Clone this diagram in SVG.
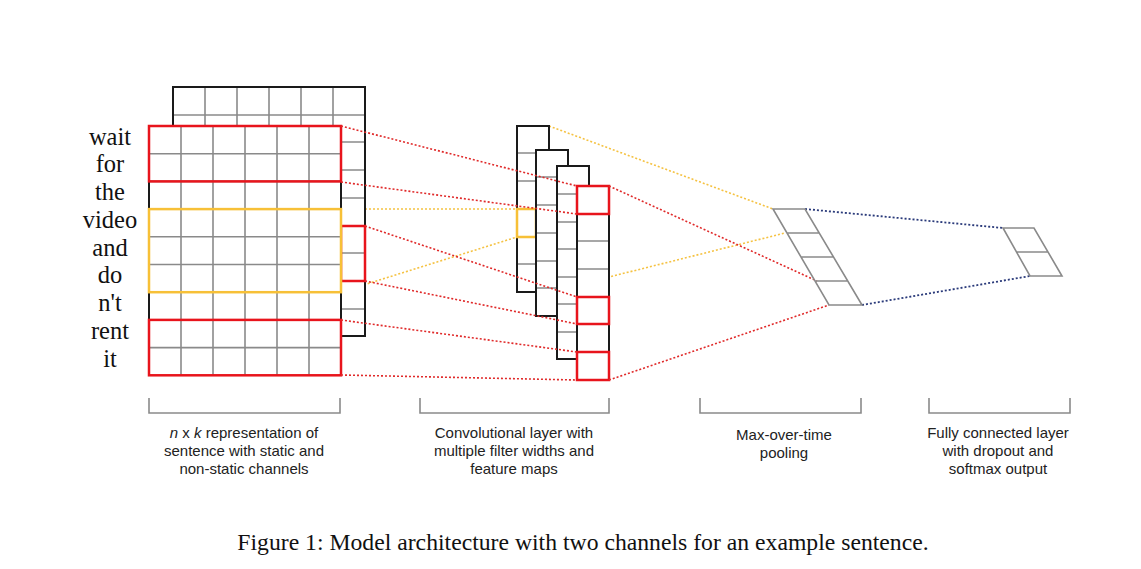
<svg xmlns="http://www.w3.org/2000/svg" width="1141" height="569" viewBox="0 0 1141 569">
<style>
.g{stroke:#8a8a8a;stroke-width:1.6;fill:none}
.k{stroke:#1a1a1a;stroke-width:2;fill:none}
.f{fill:#fff}
.r{stroke:#e8141c;stroke-width:2.5;fill:none}
.y{stroke:#f7c037;stroke-width:2.5;fill:none}
.dr{stroke:#e02a2a;stroke-width:1.6;stroke-dasharray:2 2;fill:none}
.dy{stroke:#f5c242;stroke-width:1.6;stroke-dasharray:2 2;fill:none}
.db{stroke:#2a3a7a;stroke-width:1.8;stroke-dasharray:2 2;fill:none}
.w{font-family:"Liberation Serif",serif;font-size:24.5px;fill:#111;text-anchor:middle}
.l{font-family:"Liberation Sans",sans-serif;font-size:15px;fill:#222;text-anchor:middle}
</style>
<rect width="1141" height="569" fill="#fff"/>
<g id="connectors-back">
<path class="dy" d="M341,209L517,209M341,292L517,237M549,126L773,209M549,292L785,233"/>
<path class="db" d="M805,209L1003,228M862,305L1030,276"/>
</g>
<g id="matrix-back">
<rect x="173" y="87" width="192" height="249" class="f"/>
<path class="g" d="M205,87V126M237,87V126M269,87V126M301,87V126M333,87V126M173,115H341M341,115H365M341,142H365M341,170H365M341,198H365M341,226H365M341,253H365M341,281H365M341,309H365"/>
<path class="k" d="M173,126V87H365V336H341"/>
<rect class="r" x="341" y="226" width="24" height="55"/>
</g>
<g id="matrix-front">
<rect x="149" y="126" width="192" height="249" class="f"/>
<path class="g" d="M181,126V375M213,126V375M245,126V375M277,126V375M309,126V375M149,153.7H341M149,181.4H341M149,209.1H341M149,236.8H341M149,264.5H341M149,292.2H341M149,319.9H341M149,347.6H341"/>
<path class="k" d="M149,126V375M341,126V375"/>
<rect class="r" x="149" y="126" width="192" height="55.4"/>
<rect class="y" x="149" y="209.1" width="192" height="83.1"/>
<rect class="r" x="149" y="319.9" width="192" height="55.4"/>
</g>
<g id="words">
<text class="w" x="110" y="145">wait</text>
<text class="w" x="110" y="172">for</text>
<text class="w" x="110" y="200">the</text>
<text class="w" x="110" y="228">video</text>
<text class="w" x="110" y="256">and</text>
<text class="w" x="110" y="283">do</text>
<text class="w" x="110" y="311">n't</text>
<text class="w" x="110" y="339">rent</text>
<text class="w" x="110" y="367">it</text>
</g>
<g id="map1">
<rect x="517" y="126" width="32" height="166" class="f"/>
<path class="g" d="M517,153H549M517,181H549M517,209H549M517,237H549M517,264H549"/>
<rect x="517" y="126" width="32" height="166" class="k"/>
<rect class="y" x="517" y="209" width="19" height="28"/>
</g>
<g id="map2">
<rect x="536" y="150" width="32" height="166" class="f"/>
<path class="g" d="M536,177H568M536,205H568M536,233H568M536,261H568M536,288H568"/>
<rect x="536" y="150" width="32" height="166" class="k"/>
</g>
<g id="map3">
<rect x="557" y="166" width="32" height="193" class="f"/>
<path class="g" d="M557,194H589M557,222H589M557,249H589M557,277H589M557,304H589M557,332H589"/>
<rect x="557" y="166" width="32" height="193" class="k"/>
</g>
<g id="map4">
<rect x="577" y="186" width="32" height="194" class="f"/>
<path class="g" d="M577,241H609M577,269H609"/>
<rect x="577" y="186" width="32" height="194" class="k"/>
<rect class="r" x="577" y="186" width="32" height="28"/>
<rect class="r" x="577" y="297" width="32" height="27"/>
<rect class="r" x="577" y="352" width="32" height="28"/>
</g>
<g id="connectors-front">
<path class="dr" d="M341,126L577,186M341,182L577,214M365,226L577,297M365,281L577,324M341,320L577,352M341,375L577,380M609,186L817,281M609,380L829,305"/>
</g>
<g id="pooling">
<path class="g" d="M773,209H805L862,305H829ZM787,233H819M801,257H833M815,281H848"/>
</g>
<g id="fc">
<path class="g" d="M1003,228H1034L1062,276H1030ZM1017,252H1048"/>
</g>
<g id="brackets">
<path class="g" d="M149,398V413H340V398M420,398V413H609V398M700,398V413H861V398M929,398V413H1070V398"/>
</g>
<g id="labels">
<text class="l" x="244" y="438"><tspan font-style="italic">n</tspan> x <tspan font-style="italic">k</tspan> representation of</text>
<text class="l" x="244" y="456">sentence with static and</text>
<text class="l" x="244" y="474">non-static channels</text>
<text class="l" x="514" y="438">Convolutional layer with</text>
<text class="l" x="514" y="456">multiple filter widths and</text>
<text class="l" x="514" y="474">feature maps</text>
<text class="l" x="784" y="440">Max-over-time</text>
<text class="l" x="784" y="458">pooling</text>
<text class="l" x="998" y="438">Fully connected layer</text>
<text class="l" x="998" y="456">with dropout and</text>
<text class="l" x="998" y="474">softmax output</text>
<text x="583" y="550" font-family="Liberation Serif,serif" font-size="23.7" fill="#111" text-anchor="middle">Figure 1: Model architecture with two channels for an example sentence.</text>
</g>
</svg>
